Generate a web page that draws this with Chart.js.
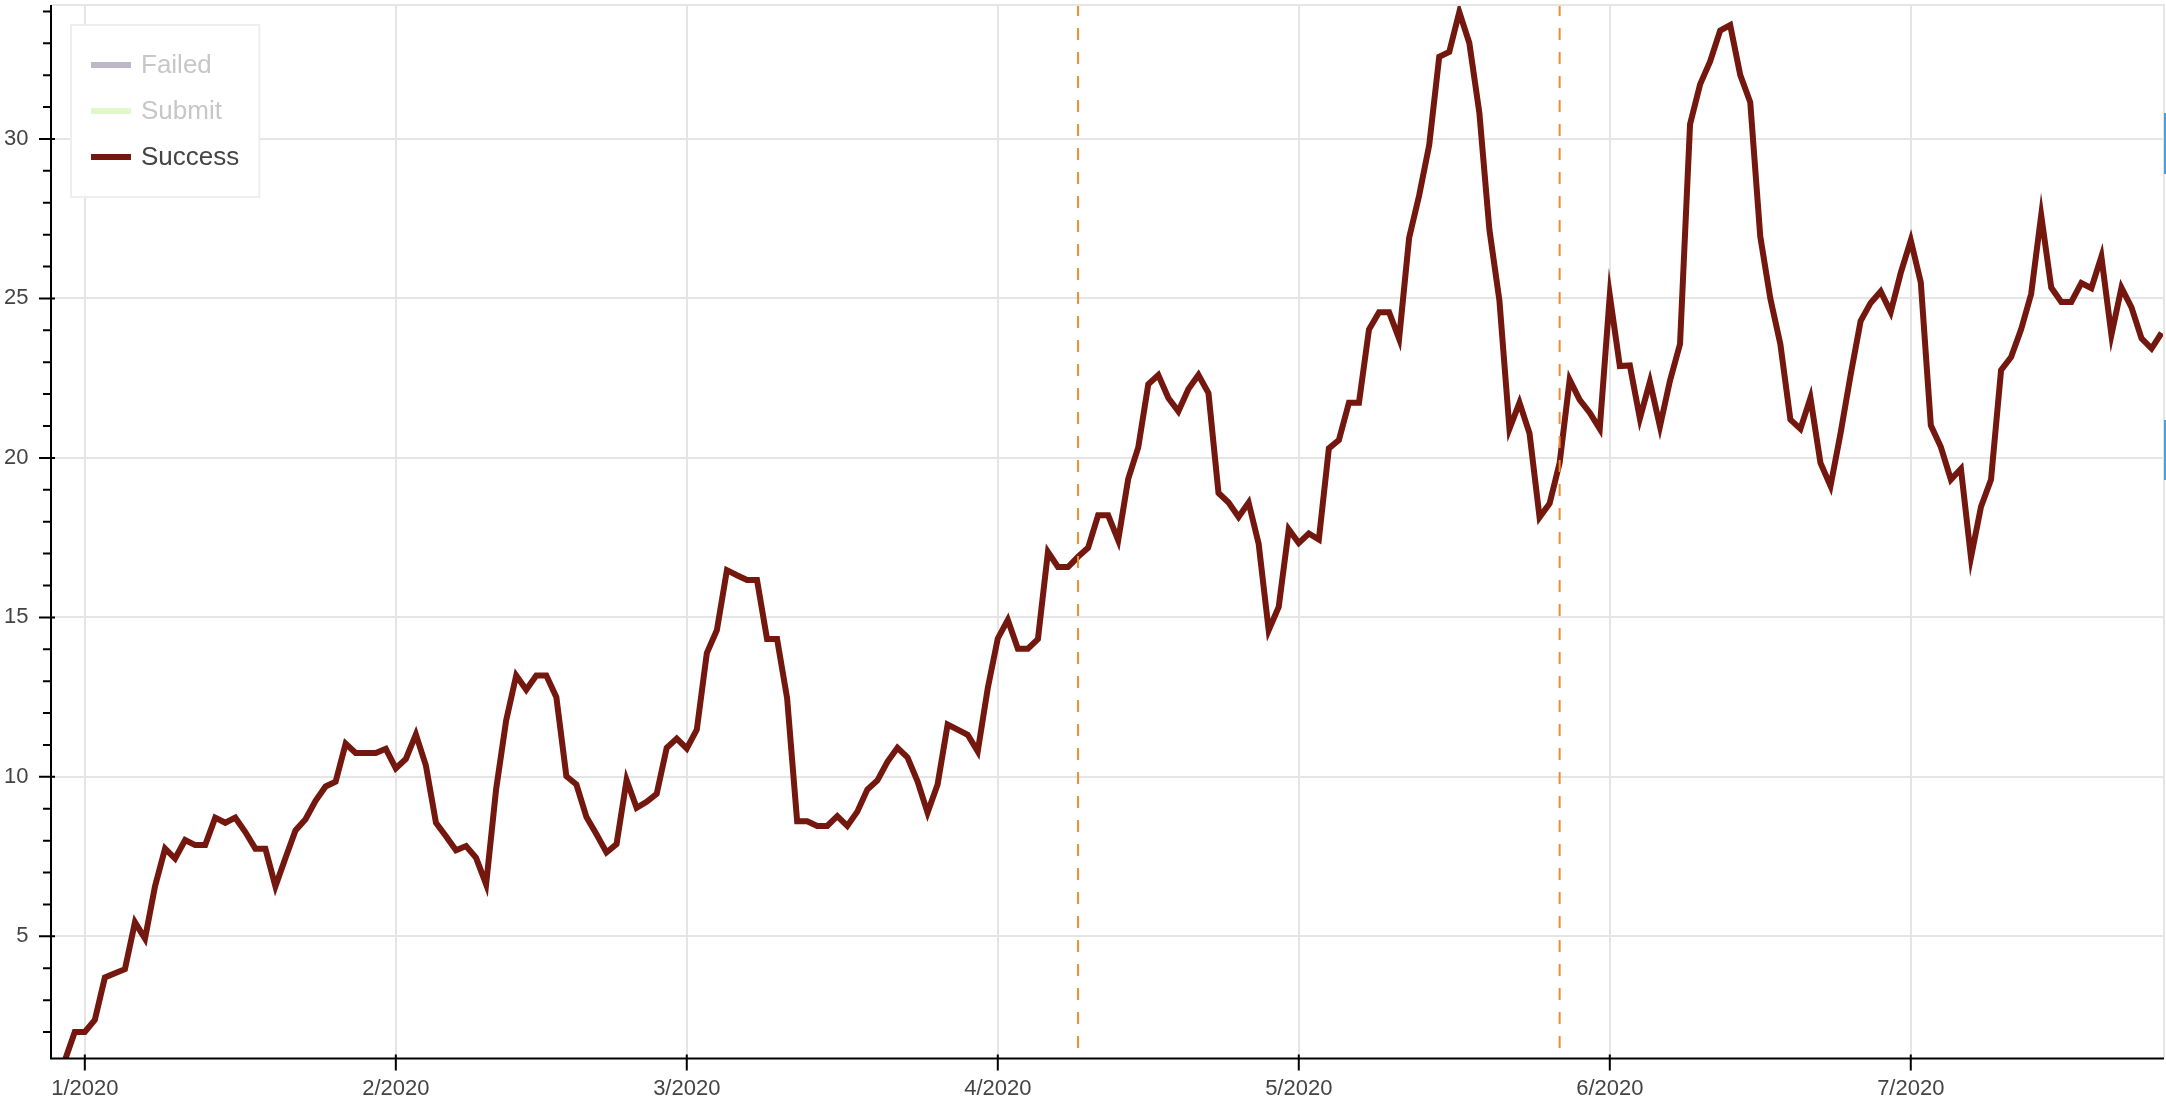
<!DOCTYPE html>
<html>
<head>
<meta charset="utf-8">
<title>Success</title>
<script src="https://cdn.jsdelivr.net/npm/chart.js@4.4.1/dist/chart.umd.min.js"></script>
<style>
  html, body { margin: 0; padding: 0; background: #fff; }
</style>
</head>
<body>
<canvas id="successChart" width="2166" height="1106"></canvas>
<script>
// x = day number, 0 = 1/1/2020. The series starts on 30/12/2019
const firstDay = -2;

// daily values, one array per month
const dec2019 = [1.1, 2.0];
const jan2020 = [2.0, 2.38, 3.71, 3.84, 3.97, 5.44, 4.93, 6.57, 7.75, 7.44,
                 8.02, 7.86, 7.86, 8.72, 8.56, 8.72, 8.27, 7.75, 7.75, 6.57,
                 7.46, 8.32, 8.67, 9.25, 9.70, 9.85, 11.04, 10.75, 10.75, 10.75, 10.88];
const feb2020 = [10.27, 10.56, 11.33, 10.35, 8.56, 8.14, 7.70, 7.83, 7.46, 6.63,
                 9.62, 11.77, 13.18, 12.73, 13.18, 13.18, 12.5, 10.02, 9.76, 8.74,
                 8.2, 7.63, 7.89, 9.9, 9.03, 9.22, 9.47, 10.91, 11.2];
const mar2020 = [10.89, 11.48, 13.88, 14.6, 16.48, 16.32, 16.17, 16.17, 14.32, 14.32,
                 12.47, 8.61, 8.61, 8.46, 8.46, 8.77, 8.46, 8.91, 9.6, 9.89,
                 10.47, 10.91, 10.61, 9.86, 8.88, 9.76, 11.64, 11.48, 11.32, 10.8, 12.78];
const apr2020 = [14.34, 14.92, 14.02, 14.02, 14.32, 17.05, 16.58, 16.58, 16.9, 17.18,
                 18.2, 18.2, 17.42, 19.34, 20.33, 22.31, 22.6, 21.88, 21.46, 22.16,
                 22.6, 22.03, 18.9, 18.6, 18.15, 18.6, 17.31, 14.6, 15.33, 17.76];
const may2020 = [17.33, 17.63, 17.44, 20.3, 20.56, 21.73, 21.73, 24.03, 24.57, 24.57,
                 23.74, 26.9, 28.23, 29.81, 32.58, 32.73, 33.98, 33.01, 30.82, 27.16,
                 24.93, 20.91, 21.73, 20.77, 18.14, 18.57, 19.84, 22.45, 21.82, 21.42, 20.91];
const jun2020 = [25.1, 22.88, 22.9, 21.24, 22.39, 20.99, 22.42, 23.57, 30.46, 31.71,
                 32.43, 33.4, 33.57, 32.01, 31.15, 26.94, 25.0, 23.57, 21.2, 20.91,
                 21.88, 19.84, 19.12, 20.77, 22.59, 24.29, 24.86, 25.22, 24.57, 25.8];
const jul2020 = [26.82, 25.5, 21.02, 20.34, 19.32, 19.66, 16.88, 18.47, 19.32, 22.75,
                 23.16, 24.03, 25.14, 27.61, 25.34, 24.89, 24.89, 25.48, 25.32, 26.31,
                 23.86, 25.34, 24.72, 23.75, 23.43, 23.92];

const success = [].concat(dec2019, jan2020, feb2020, mar2020, apr2020, may2020, jun2020, jul2020);

// x axis: month starts and their labels
const monthStarts = [0, 31, 60, 91, 121, 152, 182];
const monthLabels = ['1/2020', '2/2020', '3/2020', '4/2020', '5/2020', '6/2020', '7/2020'];
const yTicks = [5, 10, 15, 20, 25, 30];

// dashed markers: 9/4/2020 and 27/5/2020
const markerDays = [99, 147];

const FONT = '"Liberation Sans", Arial, Helvetica, sans-serif';
Chart.defaults.font.family = FONT;

// axis lines, ticks, frame outline
const frameAxes = {
    id: 'frameAxes',
    afterDraw(chart) {
        const { ctx, chartArea: a, scales } = chart;
        const x = scales.x, y = scales.y;
        ctx.save();
        ctx.lineWidth = 2;
        // frame outline (top, right)
        ctx.strokeStyle = '#e5e5e5';
        ctx.beginPath();
        ctx.moveTo(a.left, a.top);
        ctx.lineTo(a.right, a.top);
        ctx.lineTo(a.right, a.bottom);
        ctx.stroke();

        ctx.strokeStyle = '#000';
        ctx.beginPath();
        ctx.moveTo(a.left, a.top);
        ctx.lineTo(a.left, a.bottom);
        ctx.lineTo(a.right, a.bottom);
        // y minor ticks
        for (let v = Math.ceil(y.min); v <= y.max; v++) {
            if (v % 5 === 0) continue;
            const py = y.getPixelForValue(v);
            ctx.moveTo(a.left - 8, py);
            ctx.lineTo(a.left, py);
        }
        // y major ticks
        yTicks.forEach(v => {
            const py = y.getPixelForValue(v);
            ctx.moveTo(a.left - 12, py);
            ctx.lineTo(a.left + 4, py);
        });
        // x major ticks
        monthStarts.forEach(d => {
            const px = x.getPixelForValue(d);
            ctx.moveTo(px, a.bottom - 4);
            ctx.lineTo(px, a.bottom + 12);
        });
        ctx.stroke();

        // toolbar edge bits at the right border
        ctx.fillStyle = '#4b9fd8';
        ctx.fillRect(a.right, 113, 2, 61);
        ctx.fillRect(a.right, 420, 2, 60);
        ctx.restore();
    }
};

// legend box in the top left corner of the plot
const boxLegend = {
    id: 'boxLegend',
    afterDraw(chart) {
        const { ctx, chartArea: a } = chart;
        const items = chart.data.datasets.filter(ds => ds.inLegend);
        const bx = a.left + 20, by = a.top + 20;
        ctx.save();
        ctx.font = '26px ' + FONT;
        const textW = Math.max(...items.map(it => ctx.measureText(it.label).width));
        const w = 20 + 40 + 10 + textW + 20;
        const h = 20 + items.length * 40 + (items.length - 1) * 6 + 20;
        ctx.fillStyle = 'rgba(255,255,255,0.95)';
        ctx.fillRect(bx, by, w, h);
        ctx.strokeStyle = '#eeeeee';
        ctx.lineWidth = 2;
        ctx.strokeRect(bx, by, w, h);

        items.forEach((it, i) => {
            const cy = by + 20 + 20 + i * 46;
            ctx.strokeStyle = it.hidden ? it.mutedColor : it.borderColor;
            ctx.lineWidth = 6;
            ctx.beginPath();
            ctx.moveTo(bx + 20, cy);
            ctx.lineTo(bx + 60, cy);
            ctx.stroke();
            ctx.fillStyle = it.hidden ? '#c7c7c7' : '#444444';
            ctx.textBaseline = 'middle';
            ctx.textAlign = 'left';
            ctx.fillText(it.label, bx + 70, cy + 1);
        });
        ctx.restore();
    }
};

const successLine = {
    label: 'Success',
    inLegend: true,
    data: success.map((v, i) => ({ x: firstDay + i, y: v })),
    borderColor: '#74170f',
    borderWidth: 6,
    pointRadius: 0,
    tension: 0,
    clip: 0,
    order: 2
};

const markerLines = markerDays.map(d => ({
    label: 'marker',
    inLegend: false,
    data: [{ x: d, y: 1.5 }, { x: d, y: 40 }],
    borderColor: '#f28b2e',
    borderWidth: 2,
    borderDash: [12, 12],
    pointRadius: 0,
    clip: 0,
    order: 1
}));

new Chart(document.getElementById('successChart'), {
    type: 'line',
    data: {
        datasets: [
            { label: 'Failed', inLegend: true, hidden: true, data: [], borderColor: '#5e4b8a', mutedColor: '#bdb8c7', pointRadius: 0 },
            { label: 'Submit', inLegend: true, hidden: true, data: [], borderColor: '#9fe86a', mutedColor: '#e1f8cb', pointRadius: 0 },
            successLine,
            ...markerLines
        ]
    },
    options: {
        responsive: false,
        devicePixelRatio: 1,
        animation: false,
        layout: { padding: { top: 5, right: 2, left: 0, bottom: 0 } },
        plugins: {
            legend: { display: false },
            tooltip: { enabled: false }
        },
        scales: {
            x: {
                type: 'linear',
                min: -3.37,
                max: 207.24,
                afterBuildTicks: scale => { scale.ticks = monthStarts.map(v => ({ value: v })); },
                afterFit: scale => {
                    scale.height = 47.5;
                    scale.paddingLeft = 0;
                    scale.paddingRight = 0;
                },
                ticks: {
                    autoSkip: false,
                    maxRotation: 0,
                    minRotation: 0,
                    padding: 19,
                    color: '#444444',
                    font: { size: 22, lineHeight: 1 },
                    callback: value => monthLabels[monthStarts.indexOf(value)]
                },
                grid: { color: '#e5e5e5', lineWidth: 2, drawTicks: false },
                border: { display: false }
            },
            y: {
                type: 'linear',
                min: 1.17,
                max: 34.2,
                afterBuildTicks: scale => { scale.ticks = yTicks.map(v => ({ value: v })); },
                afterFit: scale => {
                    scale.width = 51;
                    scale.paddingTop = 0;
                    scale.paddingBottom = 0;
                },
                ticks: {
                    padding: 22.5,
                    color: '#444444',
                    font: { size: 22, lineHeight: 1 },
                    callback: value => String(value)
                },
                grid: { color: '#e5e5e5', lineWidth: 2, drawTicks: false },
                border: { display: false }
            }
        }
    },
    plugins: [frameAxes, boxLegend]
});
</script>
</body>
</html>
